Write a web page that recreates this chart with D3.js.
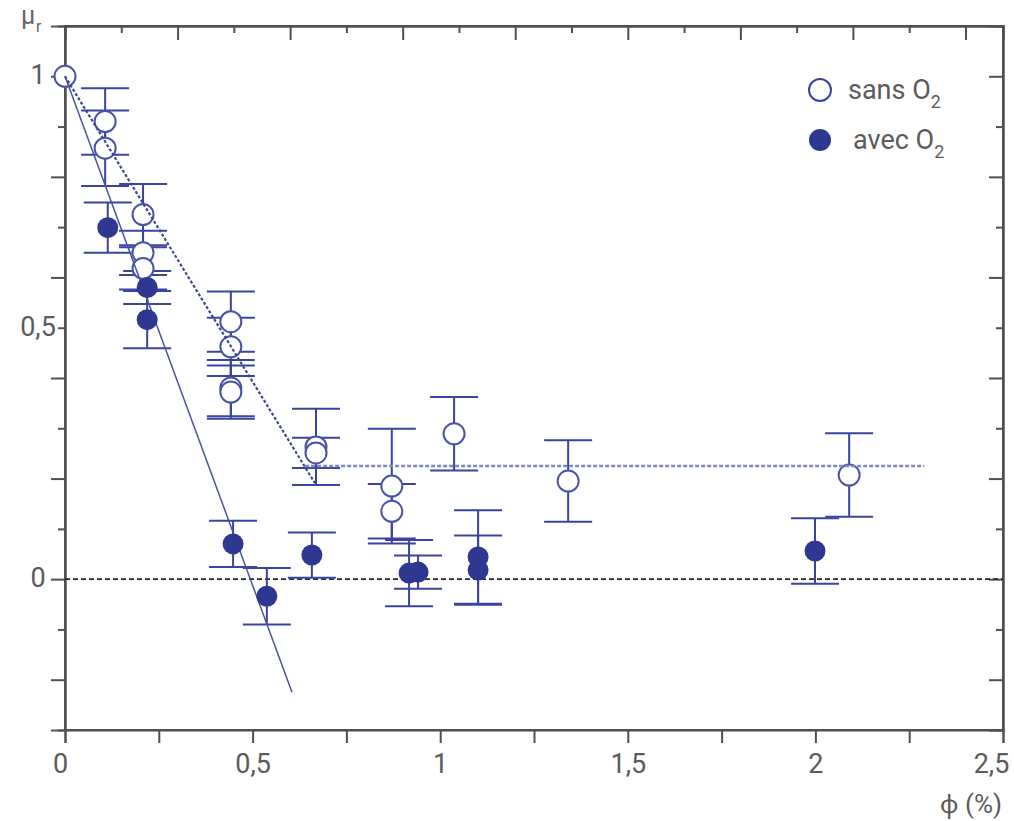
<!DOCTYPE html>
<html>
<head>
<meta charset="utf-8">
<script src="https://cdn.jsdelivr.net/npm/d3@7"></script>
<style>
  html, body { margin: 0; padding: 0; background: #fff; }
  svg { display: block; }
  text { font-family: Roboto, "Noto Sans", sans-serif; }
</style>
</head>
<body>
<svg id="chart" width="1014" height="821"></svg>
<script>
// ---- data ----
const sansX   = [0, 0.107, 0.107, 0.208, 0.208, 0.208, 0.442, 0.442, 0.442, 0.442, 0.669, 0.669, 0.871, 0.871, 1.037, 1.341, 2.090];
const sansY   = [1.0, 0.910, 0.857, 0.725, 0.649, 0.618, 0.512, 0.462, 0.380, 0.372, 0.263, 0.251, 0.185, 0.135, 0.289, 0.195, 0.207];
const sansErr = [0, 0.066, 0.075, 0.061, 0.044, 0.042, 0.060, 0.058, 0.056, 0.053, 0.076, 0.030, 0.114, 0.054, 0.073, 0.081, 0.083];

const avecX   = [0.114, 0.219, 0.219, 0.448, 0.538, 0.658, 0.917, 0.941, 1.101, 1.101, 1.999];
const avecY   = [0.699, 0.580, 0.516, 0.070, -0.034, 0.048, 0.012, 0.014, 0.044, 0.018, 0.056];
const avecErr = [0.050, 0.033, 0.057, 0.046, 0.056, 0.045, 0.066, 0.033, 0.093, 0.069, 0.065];

const avecFitX = [0, 0.605];
const avecFitY = [1, -0.225];
const sansFitX = [0, 0.666];
const sansFitY = [1, 0.191];
const plateauX = [0.64, 2.29];
const plateauY = [0.225, 0.225];
const zeroX = [0, 2.5];
const zeroY = [0, 0];

const xLabelTicks = [0, 0.5, 1, 1.5, 2, 2.5];
const xMinorTicks = [0, 0.25, 0.5, 0.75, 1, 1.25, 1.5, 1.75, 2, 2.25, 2.5];
const topMajorTicks = [0.3, 0.6, 0.9, 1.2, 1.5, 1.8, 2.1, 2.4];
const topMinorTicks = [0.15, 0.45, 0.75, 1.05, 1.35, 1.65, 1.95, 2.25];
const yLabelTicks = [0, 0.5, 1];
const yMajorTicks = [-0.2, 0, 0.2, 0.4, 0.6, 0.8, 1.0];
const yMinorTicks = [-0.1, 0.1, 0.3, 0.5, 0.7, 0.9];
const legendLabels = ["sans O", "avec O"];

// ---- layout ----
const svg = d3.select("#chart");
const L = 65, R = 1003, T = 26, B = 730;
const x = d3.scaleLinear().domain([0, 2.5]).range([L, R]);
const y = d3.scaleLinear().domain([-0.3, 1.1]).range([B, T]);

const axisColor = "#505050";
const textColor = "#5b5b5b";
const markColor = "#2e3890";
const barColor = "#3a44a0";

const loc = d3.formatLocale({decimal: ",", thousands: ".", grouping: [3], currency: ["", ""]});
const fmt = loc.format("~g");

function styleAxis(g) {
  g.select(".domain").attr("stroke", axisColor).attr("stroke-width", 2);
  g.selectAll(".tick line").attr("stroke", axisColor).attr("stroke-width", 2);
  g.selectAll("text").attr("fill", textColor).style("font-size", "27px").style("font-weight", 400);
}

// frame box
svg.append("rect").attr("x", L).attr("y", T).attr("width", R - L).attr("height", B - T)
  .attr("fill", "none").attr("stroke", axisColor).attr("stroke-width", 2);

// bottom ticks (outward)
svg.append("g").attr("transform", `translate(0,${B})`)
  .call(d3.axisBottom(x).tickValues(xMinorTicks).tickSize(13).tickFormat(""))
  .call(styleAxis);
// bottom labels
const xl = svg.append("g").attr("transform", `translate(0,${B})`)
  .call(d3.axisBottom(x).tickValues(xLabelTicks).tickSize(0).tickPadding(24).tickFormat(fmt))
  .call(styleAxis);
xl.select(".domain").remove();
xl.selectAll(".tick text").attr("dx", d => d === 0 ? -5 : (d === 2.5 ? -12 : 0));

// top ticks (inward)
svg.append("g").attr("transform", `translate(0,${T})`)
  .call(d3.axisTop(x).tickValues(topMajorTicks).tickSize(-14).tickFormat(""))
  .call(styleAxis);
svg.append("g").attr("transform", `translate(0,${T})`)
  .call(d3.axisTop(x).tickValues(topMinorTicks).tickSize(-7).tickFormat(""))
  .call(styleAxis);

// left ticks (outward)
svg.append("g").attr("transform", `translate(${L},0)`)
  .call(d3.axisLeft(y).tickValues(yMajorTicks).tickSize(14).tickFormat(""))
  .call(styleAxis);
svg.append("g").attr("transform", `translate(${L},0)`)
  .call(d3.axisLeft(y).tickValues(yMinorTicks).tickSize(7).tickFormat(""))
  .call(styleAxis);
const yl = svg.append("g").attr("transform", `translate(${L},0)`)
  .call(d3.axisLeft(y).tickValues(yLabelTicks).tickSize(0).tickFormat(fmt))
  .call(styleAxis);
yl.select(".domain").remove();
yl.selectAll(".tick text").attr("text-anchor", "middle").attr("x", -27).attr("dy", "0.28em");

// right ticks (inward)
svg.append("g").attr("transform", `translate(${R},0)`)
  .call(d3.axisRight(y).tickValues(yMajorTicks).tickSize(-14).tickFormat(""))
  .call(styleAxis);
svg.append("g").attr("transform", `translate(${R},0)`)
  .call(d3.axisRight(y).tickValues(yMinorTicks).tickSize(-7).tickFormat(""))
  .call(styleAxis);

// axis titles
svg.append("text").attr("x", 21).attr("y", 24).attr("fill", "#666")
  .style("font-size", "25px").style("font-weight", 400).text("μ");
svg.append("text").attr("x", 36).attr("y", 32).attr("fill", "#666")
  .style("font-size", "16px").style("font-weight", 400).text("r");
svg.append("text").attr("x", 1002).attr("y", 813).attr("text-anchor", "end").attr("fill", textColor)
  .style("font-size", "26px").style("font-weight", 400).text("ϕ (%)");

const line = d3.line().x(d => x(d[0])).y(d => y(d[1]));

// zero line
svg.append("path").datum(d3.zip(zeroX, zeroY)).attr("d", line)
  .attr("fill", "none").attr("stroke", "#2a2a2a").attr("stroke-width", 1.6).attr("stroke-dasharray", "5,3");

// error bars
const cap = 24;
function errorBars(xs, ys, es) {
  const g = svg.append("g").attr("stroke", barColor).attr("stroke-width", 2).attr("fill", "none");
  xs.forEach((xv, i) => {
    if (!es[i]) return;
    const cx = x(xv), y1 = y(ys[i] + es[i]), y2 = y(ys[i] - es[i]);
    g.append("line").attr("x1", cx).attr("x2", cx).attr("y1", y1).attr("y2", y2);
    g.append("line").attr("x1", cx - cap).attr("x2", cx + cap).attr("y1", y1).attr("y2", y1);
    g.append("line").attr("x1", cx - cap).attr("x2", cx + cap).attr("y1", y2).attr("y2", y2);
  });
}
errorBars(sansX, sansY, sansErr);
errorBars(avecX, avecY, avecErr);

// open circles
svg.append("g").selectAll("circle").data(d3.zip(sansX, sansY)).join("circle")
  .attr("cx", d => x(d[0])).attr("cy", d => y(d[1])).attr("r", 10.5)
  .attr("fill", "#fff").attr("stroke", "#4a52a8").attr("stroke-width", 2);

// fit lines
svg.append("path").datum(d3.zip(avecFitX, avecFitY)).attr("d", line)
  .attr("fill", "none").attr("stroke", "#4a52a0").attr("stroke-width", 1.5);
svg.append("path").datum(d3.zip(sansFitX, sansFitY)).attr("d", line)
  .attr("fill", "none").attr("stroke", "#3e4896").attr("stroke-width", 2.2).attr("stroke-dasharray", "3,2");
svg.append("path").datum(d3.zip(plateauX, plateauY)).attr("d", line)
  .attr("fill", "none").attr("stroke", "#8088c0").attr("stroke-width", 2.4).attr("stroke-dasharray", "4,2");

// filled circles
svg.append("g").selectAll("circle").data(d3.zip(avecX, avecY)).join("circle")
  .attr("cx", d => x(d[0])).attr("cy", d => y(d[1])).attr("r", 10.5)
  .attr("fill", markColor);

// legend
const leg = svg.append("g");
leg.append("circle").attr("cx", 820).attr("cy", 90).attr("r", 11)
  .attr("fill", "#fff").attr("stroke", "#3a44a0").attr("stroke-width", 2);
leg.append("circle").attr("cx", 820).attr("cy", 140).attr("r", 11).attr("fill", markColor);
[[848, 99], [853, 149]].forEach((p, i) => {
  const t = leg.append("text").attr("x", p[0]).attr("y", p[1]).attr("fill", textColor)
    .style("font-size", "27px").style("font-weight", 400).text(legendLabels[i]);
  t.append("tspan").attr("dy", 9).style("font-size", "18px").text("2");
});
</script>
</body>
</html>
